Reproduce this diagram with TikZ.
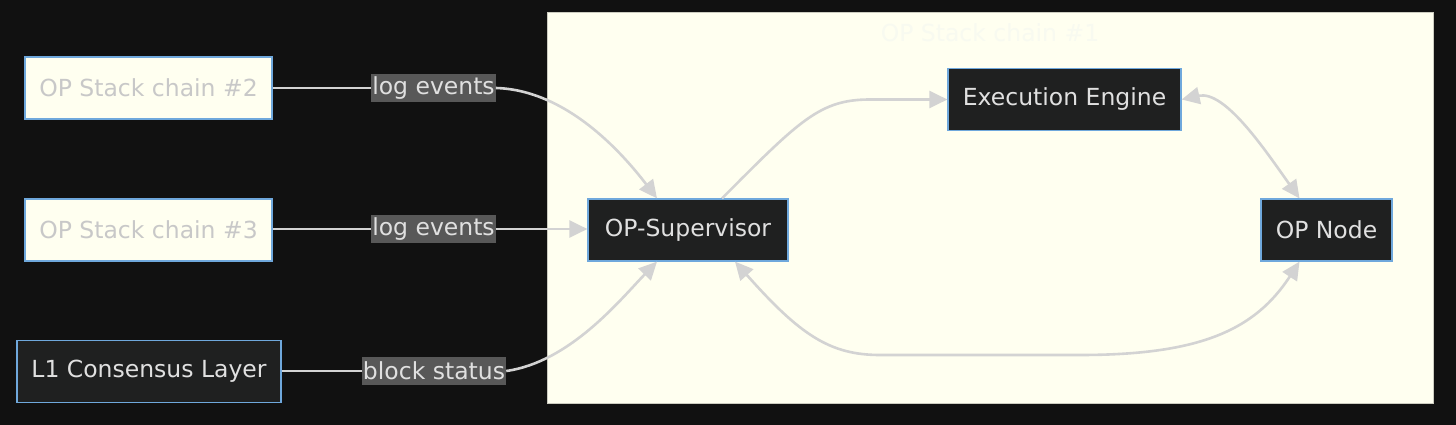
\documentclass[tikz,border=0pt]{standalone}
\usepackage{fontspec}
\setmainfont{DejaVu Sans}
\usetikzlibrary{arrows.meta}
\definecolor{bg}{HTML}{111111}
\definecolor{cream}{HTML}{FFFFF0}
\definecolor{nodefill}{HTML}{1F2020}
\definecolor{nodeborder}{HTML}{6FA8DC}
\definecolor{nodetext}{HTML}{E0E0E0}
\definecolor{lighttext}{HTML}{C8C8C8}
\definecolor{labelfill}{HTML}{585858}
\definecolor{edge}{HTML}{D3D3D3}
\definecolor{titlecol}{HTML}{F8FAF0}
\tikzset{
  every node/.style={font=\fontsize{23.5}{28}\selectfont, inner sep=0pt, anchor=center},
  darkbox/.style={draw=nodeborder, line width=1.2pt, fill=nodefill, text=nodetext, minimum height=62pt},
  lightbox/.style={draw=nodeborder, line width=1.2pt, fill=cream, text=lighttext, minimum height=62pt},
  elabel/.style={fill=labelfill, text=nodetext, inner xsep=1pt, minimum height=28pt},
  conn/.style={draw=edge, line width=2.6pt},
  arr/.style={conn, -{Triangle[length=18pt,width=17pt]}},
  darr/.style={conn, {Triangle[length=18pt,width=17pt]}-{Triangle[length=18pt,width=17pt]}},
}
\begin{document}
\begin{tikzpicture}[x=1pt,y=-1pt]
\fill[bg] (0,0) rectangle (1456,425);
\useasboundingbox (0,0) rectangle (1456,425);
% cluster
\node[draw=cream!80!black, line width=0.6pt, fill=cream, minimum width=886pt, minimum height=391pt] (cluster) at (990,207.5) {};
\node[text=titlecol] (title) at (990,33) {OP Stack chain \#1};
% nodes
\node[lightbox, minimum width=247pt] (c2) at (148.5,88) {OP Stack chain \#2};
\node[lightbox, minimum width=247pt] (c3) at (148.5,230) {OP Stack chain \#3};
\node[darkbox, minimum width=264pt] (l1) at (149,371.5) {L1 Consensus Layer};
\node[darkbox, minimum width=200pt] (sup) at (688,230) {OP-Supervisor};
\node[darkbox, minimum width=233pt] (ee) at (1064.5,99.5) {Execution Engine};
\node[darkbox, minimum width=131pt] (opn) at (1326.5,230) {OP Node};
% edge labels
\node[elabel] (lab2) at (433.5,88) {log events};
\node[elabel] (lab3) at (433.5,229) {log events};
\node[elabel] (labl1) at (434,371) {block status};
% connectors
\draw[conn] (c2.east) -- (lab2.west);
\draw[arr] (lab2.east) .. controls (565,90) and (620,150) .. ([xshift=-31pt]sup.north);
\draw[conn] (c3.east |- lab3) -- (lab3.west);
\draw[arr] (lab3.east) -- (sup.west |- lab3);
\draw[conn] (l1.east |- labl1) -- (labl1.west);
\draw[arr] (labl1.east) .. controls (570,362) and (620,300) .. ([xshift=-31pt]sup.south);
\coordinate (s2) at (870,99.5);
\draw[arr] ([xshift=34pt]sup.north) .. controls (800,120) and (820,99.5) .. (s2) -- (ee.west);
\draw[darr] (ee.east) .. controls (1225,90) and (1265,150) .. ([xshift=-27pt]opn.north);
\coordinate (b1) at (880,355);
\coordinate (b2) at (1080,355);
\draw[darr] ([xshift=47pt]sup.south) .. controls (800,335) and (830,355) .. (b1) -- (b2) .. controls (1200,355) and (1255,330) .. ([xshift=-27pt]opn.south);
\end{tikzpicture}
\end{document}
